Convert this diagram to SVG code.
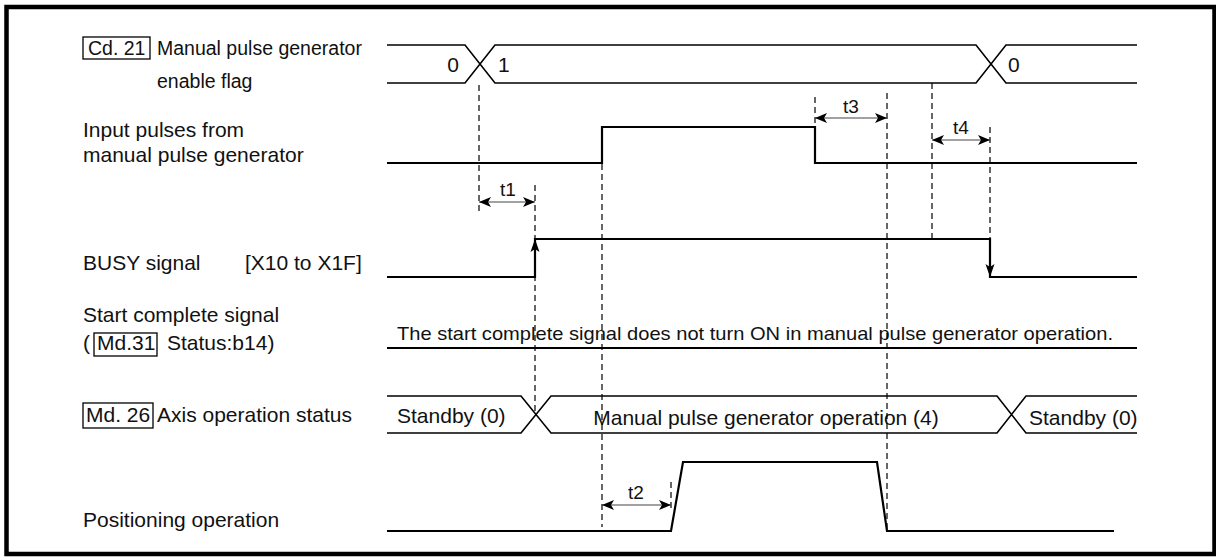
<svg xmlns="http://www.w3.org/2000/svg" width="1216" height="557" viewBox="0 0 1216 557">
<style>
text{font-family:"Liberation Sans",Arial,sans-serif;fill:#111;}
.lbl{font-size:21px;}
.lbs{font-size:19.5px;}
.tl{font-size:19px;text-anchor:middle;}
.sig{fill:none;stroke:#000;stroke-width:2.2;}
.bus{fill:none;stroke:#000;stroke-width:1.6;}
.box{fill:none;stroke:#000;stroke-width:1.3;}
.dash{fill:none;stroke:#000;stroke-width:1.2;stroke-dasharray:6 4;}
.dim{fill:none;stroke:#444;stroke-width:1.1;marker-start:url(#ah);marker-end:url(#ah);}
</style>
<defs>
<marker id="ah" viewBox="0 0 12 10" refX="12" refY="5" markerWidth="12" markerHeight="10" markerUnits="userSpaceOnUse" orient="auto-start-reverse">
<path d="M0,0 L12,5 L0,10 L3,5 Z" fill="#000"/>
</marker>
</defs>
<rect x="6.5" y="7" width="1208" height="547" fill="#fff" stroke="#000" stroke-width="4.5"/>

<g id="cd21">
<rect class="box" x="83" y="37" width="67" height="22"/>
<text class="lbs" x="88" y="55">Cd. 21</text>
<text class="lbs" x="157" y="55">Manual pulse generator</text>
<text class="lbs" x="157" y="88">enable flag</text>
<path class="bus" d="M387,45 H465 L495,83 H976 L1006,45 H1137 M387,83 H465 L495,45 H976 L1006,83 H1137"/>
<text class="lbl" x="453" y="72" text-anchor="middle">0</text>
<text class="lbl" x="498" y="72">1</text>
<text class="lbl" x="1008" y="72">0</text>
</g>

<g id="input-pulses">
<text class="lbl" x="83" y="137">Input pulses from</text>
<text class="lbl" x="83" y="162">manual pulse generator</text>
<path class="sig" d="M387,163 H602 V127 H815 V163 H1137"/>
</g>

<g id="busy">
<text class="lbl" x="83" y="270">BUSY signal</text>
<text class="lbl" x="245" y="270">[X10 to X1F]</text>
<path class="sig" d="M387,277 H535 V239 H990 V277 H1137"/>
<path d="M535,239 L539.5,252 L535,249 L530.5,252 Z" fill="#000"/>
<path d="M990,277 L994.5,264 L990,267 L985.5,264 Z" fill="#000"/>
</g>

<g id="start-complete">
<text class="lbl" x="83" y="322">Start complete signal</text>
<text class="lbl" x="83" y="350">(</text>
<rect class="box" x="94" y="333" width="63" height="23"/>
<text class="lbl" x="97" y="350">Md.31</text>
<text class="lbl" x="167" y="350">Status:b14)</text>
<text x="755" y="340" font-size="19" text-anchor="middle" textLength="716" lengthAdjust="spacingAndGlyphs">The start complete signal does not turn ON in manual pulse generator operation.</text>
<path class="sig" d="M387,348 H1137" stroke-width="2"/>
</g>

<g id="md26">
<rect class="box" x="83" y="403" width="70" height="25"/>
<text class="lbl" x="86" y="422">Md. 26</text>
<text class="lbl" x="157" y="422">Axis operation status</text>
<path class="bus" d="M387,396 H521 L551,433 H997 L1026,396 H1137 M387,433 H521 L551,396 H997 L1026,433 H1137"/>
<text class="lbl" x="397" y="423">Standby (0)</text>
<text class="lbl" x="766" y="425" text-anchor="middle">Manual pulse generator operation (4)</text>
<text class="lbl" x="1029" y="425">Standby (0)</text>
</g>

<g id="positioning">
<text class="lbl" x="83" y="527">Positioning operation</text>
<path class="sig" d="M387,531 H671 L683,462 H877 L887,531 H1114" stroke-width="1.8"/>
</g>

<g id="connectors">
<path class="dash" d="M479,85 V213"/>
<path class="dash" d="M535,185 V414"/>
<path class="dash" d="M602,164 V527"/>
<path class="dash" d="M815,97 V127"/>
<path class="dash" d="M887,93 V531"/>
<path class="dash" d="M932,83 V238"/>
<path class="dash" d="M990,127 V238"/>
<path class="dash" d="M671,482 V510"/>
<path class="dim" d="M479,202 H535"/>
<path class="dim" d="M602,505 H671"/>
<path class="dim" d="M815,118 H887"/>
<path class="dim" d="M932,140 H990"/>
<text class="tl" x="508" y="196">t1</text>
<text class="tl" x="636" y="499">t2</text>
<text class="tl" x="851" y="113">t3</text>
<text class="tl" x="961" y="134">t4</text>
</g>
</svg>
